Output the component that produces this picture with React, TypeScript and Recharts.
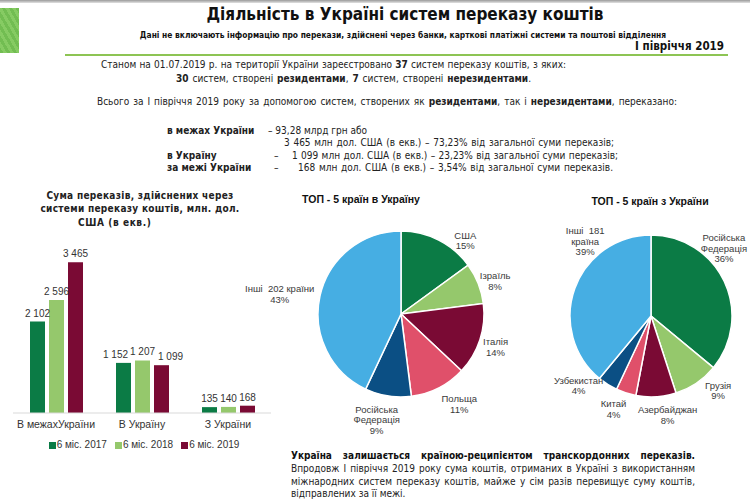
import React from "react";
import {
  BarChart,
  Bar,
  XAxis,
  YAxis,
  Legend,
  LabelList,
  PieChart,
  Pie,
  Cell,
} from "recharts";

// bar chart: transfers, mln USD
const categories = ["В межахУкраїни", "В Україну", "З України"];
const series2017 = [2102, 1152, 135];
const series2018 = [2596, 1207, 140];
const series2019 = [3465, 1099, 168];
const seriesNames = ["6 міс. 2017", "6 міс. 2018", "6 міс. 2019"];

// top-5 into Ukraine
const inNames = ["США", "Ізраїль", "Італія", "Польща", "Російська\nФедерація", "Інші  202 країни"];
const inShares = [15, 8, 14, 11, 9, 43];

// top-5 from Ukraine
const outNames = ["Російська\nФедерація", "Грузія", "Азербайджан", "Китай", "Узбекистан", "Інші  181\nкраїна"];
const outShares = [36, 9, 8, 4, 4, 39];

const GREEN = "#0b7b45";
const LIGHT = "#95c86c";
const MAROON = "#7a0a34";
const PINK = "#e0506a";
const NAVY = "#0b4f84";
const SKY = "#46aee3";

const inColors = [GREEN, LIGHT, MAROON, PINK, NAVY, SKY];
const outColors = [GREEN, LIGHT, MAROON, PINK, NAVY, SKY];

// label placement around each pie (radius, clockwise shift in degrees)
const inLabelR = [98, 100, 100, 107, 108, 123];
const inLabelShift = [14, 2, 1, -6, 4, -3];
const outLabelR = [100, 100, 100, 100, 100, 100];
const outLabelShift = [-18, -8, -6, 4, 14, 29];

// horizontal nudge of the bar value labels so neighbours don't collide
const nudge2017 = [0, -8, 0];
const nudge2018 = [0, 0, 0];
const nudge2019 = [0, 9, 0];

const TXT = "'DejaVu Sans Condensed','DejaVu Sans',sans-serif";
const ARIAL = "'Liberation Sans', Arial, sans-serif";

const barData = categories.map((c, i) => ({
  name: c,
  y2017: series2017[i],
  y2018: series2018[i],
  y2019: series2019[i],
}));
const inData = inNames.map((n, i) => ({ name: n, value: inShares[i] }));
const outData = outNames.map((n, i) => ({ name: n, value: outShares[i] }));

const fmt = (v: any) => String(v).replace(/\B(?=(\d{3})+(?!\d))/g, "\u00a0");

const barLabel = (nudge: number[]) => (p: any) => (
  <text
    x={p.x + p.width / 2 + (nudge[p.index] || 0)}
    y={p.y - 5}
    textAnchor="middle"
    fill="#333"
    fontSize={10}
    fontFamily={ARIAL}
  >
    {fmt(p.value)}
  </text>
);

const RAD = Math.PI / 180;
const pieLabel = (radii: number[], shifts: number[]) => (p: any) => {
  const i = p.index;
  const a = p.midAngle - shifts[i];
  const r = radii[i];
  const x = p.cx + r * Math.cos(-a * RAD);
  const y = p.cy + r * Math.sin(-a * RAD);
  const lines = [...String(p.name).split("\n"), `${p.value}%`];
  const lh = 10.5;
  const y0 = y - ((lines.length - 1) * lh) / 2;
  return (
    <text
      x={x}
      y={y0}
      textAnchor="middle"
      dominantBaseline="central"
      fill="#3a3a3a"
      fontSize={9.5}
      fontFamily={ARIAL}
    >
      {lines.map((l, k) => (
        <tspan key={k} x={x} y={y0 + k * lh} style={{ whiteSpace: "pre" }}>
          {l}
        </tspan>
      ))}
    </text>
  );
};

const legendContent = (props: any) => (
  <div
    style={{
      display: "flex",
      justifyContent: "center",
      gap: 8,
      fontFamily: ARIAL,
      fontSize: 10,
      color: "#333",
      lineHeight: "14px",
      paddingLeft: 4,
    }}
  >
    {(props.payload || []).map((e: any) => (
      <span key={e.value} style={{ display: "flex", alignItems: "center" }}>
        <span style={{ display: "inline-block", width: 7, height: 7, background: e.color, marginRight: 1 }} />
        {e.value}
      </span>
    ))}
  </div>
);

const T = ({ x, y, lh = 12, w, just, style, children }: any) => (
  <div
    style={{
      position: "absolute",
      left: x,
      top: y - lh / 2,
      lineHeight: `${lh}px`,
      width: w,
      whiteSpace: w ? "normal" : "nowrap",
      textAlign: just ? "justify" : undefined,
      textAlignLast: just ? "justify" : undefined,
      fontFamily: TXT,
      fontSize: 10,
      color: "#222",
      ...style,
    }}
  >
    {children}
  </div>
);

export default function App() {
  return (
    <div
      style={{
        position: "absolute",
        left: 0,
        top: 0,
        width: 750,
        height: 501,
        background: "#fff",
        overflow: "hidden",
      }}
    >
      {/* header */}
      <div style={{ position: "absolute", left: 0, top: 0, width: 750, height: 3, background: "linear-gradient(#9a9a9a,#e2e2e2)" }} />
      <div
        style={{
          position: "absolute",
          left: 0,
          top: 8,
          width: 19,
          height: 45,
          background: "repeating-linear-gradient(60deg,#72bd52 0 3px,#86cb63 3px 6px)",
        }}
      />
      <T x={205} y={14} lh={20} w={400} style={{ fontSize: 17, fontWeight: 700, textAlign: "center", color: "#111" }}>
        Діяльність в Україні систем переказу коштів
      </T>
      <T x={134} y={35} lh={10} w={538} style={{ fontSize: 8.4, fontWeight: 700, textAlign: "center", color: "#111" }}>
        Дані не включають інформацію про перекази, здійснені через банки, карткові платіжні системи та поштові відділення
      </T>
      <T x={600} y={46} lh={14} w={124} style={{ fontSize: 11.5, fontWeight: 700, textAlign: "right", color: "#111" }}>
        І півріччя 2019
      </T>
      <div style={{ position: "absolute", left: 65, top: 54, width: 663, height: 2, background: "#8dc454" }} />

      {/* summary text */}
      <T x={101} y={65} w={465} just>
        Станом на 01.07.2019 р. на території України зареєстровано <b>37</b> систем переказу коштів, з яких:
      </T>
      <T x={176} y={79} w={355} just>
        <b>30</b> систем, створені <b>резидентами</b>, <b>7</b> систем, створені <b>нерезидентами</b>.
      </T>
      <T x={97} y={102} w={580} just>
        Всього за І півріччя 2019 року за допомогою систем, створених як <b>резидентами</b>, так і <b>нерезидентами</b>, переказано:
      </T>

      <T x={167} y={131}><b>в межах України</b></T>
      <T x={268} y={131}>– 93,28 млрд грн або</T>
      <T x={284} y={143} w={330} just>
        3 465 млн дол. США (в екв.) – 73,23% від загальної суми переказів;
      </T>
      <T x={167} y={156}><b>в Україну</b></T>
      <T x={274} y={156}>–</T>
      <T x={292} y={156} w={326} just>
        1 099 млн дол. США (в екв.) – 23,23% від загальної суми переказів;
      </T>
      <T x={167} y={168}><b>за межі України</b></T>
      <T x={274} y={168}>–</T>
      <T x={298} y={168} w={315} just>
        168 млн дол. США (в екв.) – 3,54% від загальної суми переказів.
      </T>

      {/* bar chart */}
      <T x={40} y={196} w={200} style={{ fontWeight: 700, textAlign: "center", letterSpacing: 0.3 }}>
        Сума переказів, здійснених через
      </T>
      <T x={40} y={209} w={200} style={{ fontWeight: 700, textAlign: "center", letterSpacing: 0.3 }}>
        системи переказу коштів, млн. дол.
      </T>
      <T x={78} y={223} style={{ fontWeight: 700, letterSpacing: 0.6 }}>
        США (в екв.)
      </T>
      <div style={{ position: "absolute", left: 0, top: 230 }}>
        <BarChart
          width={285}
          height={230}
          data={barData}
          margin={{ top: 9, right: 14, left: 13, bottom: 8 }}
          barSize={15}
          barGap={4}
        >
          <XAxis
            dataKey="name"
            height={25}
            axisLine={{ stroke: "#d9d9d9" }}
            tickLine={false}
            interval={0}
            tick={{ fill: "#333", fontSize: 10.5, fontFamily: ARIAL }}
          />
          <YAxis hide domain={[0, 4000]} />
          <Legend content={legendContent} />
          <Bar dataKey="y2017" name={seriesNames[0]} fill={GREEN} isAnimationActive={false}>
            <LabelList dataKey="y2017" content={barLabel(nudge2017)} />
          </Bar>
          <Bar dataKey="y2018" name={seriesNames[1]} fill={LIGHT} isAnimationActive={false}>
            <LabelList dataKey="y2018" content={barLabel(nudge2018)} />
          </Bar>
          <Bar dataKey="y2019" name={seriesNames[2]} fill={MAROON} isAnimationActive={false}>
            <LabelList dataKey="y2019" content={barLabel(nudge2019)} />
          </Bar>
        </BarChart>
      </div>

      {/* pie: into Ukraine */}
      <T x={280} y={199} w={162} style={{ fontFamily: ARIAL, fontWeight: 700, fontSize: 10.5, textAlign: "center", color: "#111" }}>
        ТОП - 5 країн в Україну
      </T>
      <div style={{ position: "absolute", left: 230, top: 180 }}>
        <PieChart width={310} height={260}>
          <Pie
            data={inData}
            dataKey="value"
            nameKey="name"
            cx={166}
            cy={129}
            outerRadius={83}
            startAngle={90}
            endAngle={-270}
            stroke="#fff"
            strokeWidth={1.5}
            labelLine={false}
            label={pieLabel(inLabelR, inLabelShift)}
            isAnimationActive={false}
          >
            {inData.map((d, i) => (
              <Cell key={d.name} fill={inColors[i]} />
            ))}
          </Pie>
        </PieChart>
      </div>

      {/* pie: from Ukraine */}
      <T x={570} y={201} w={160} style={{ fontFamily: ARIAL, fontWeight: 700, fontSize: 10.5, textAlign: "center", color: "#111" }}>
        ТОП - 5 країн з України
      </T>
      <div style={{ position: "absolute", left: 490, top: 180 }}>
        <PieChart width={260} height={260}>
          <Pie
            data={outData}
            dataKey="value"
            nameKey="name"
            cx={156}
            cy={131}
            outerRadius={81}
            startAngle={90}
            endAngle={-270}
            stroke="#fff"
            strokeWidth={1.5}
            labelLine={false}
            label={pieLabel(outLabelR, outLabelShift)}
            isAnimationActive={false}
          >
            {outData.map((d, i) => (
              <Cell key={d.name} fill={outColors[i]} />
            ))}
          </Pie>
        </PieChart>
      </div>

      {/* bottom note */}
      <T x={291} y={456} w={404} lh={12.7} just style={{ fontWeight: 700, color: "#111" }}>
        Україна залишається країною-реципієнтом транскордонних переказів.
      </T>
      <T x={291} y={469} w={404} lh={12.7} just>
        Впродовж І півріччя 2019 року сума коштів, отриманих в Україні з використанням
      </T>
      <T x={291} y={482} w={404} lh={12.7} just>
        міжнародних систем переказу коштів, майже у сім разів перевищує суму коштів,
      </T>
      <T x={291} y={494} lh={12.7}>
        відправлених за її межі.
      </T>
    </div>
  );
}
